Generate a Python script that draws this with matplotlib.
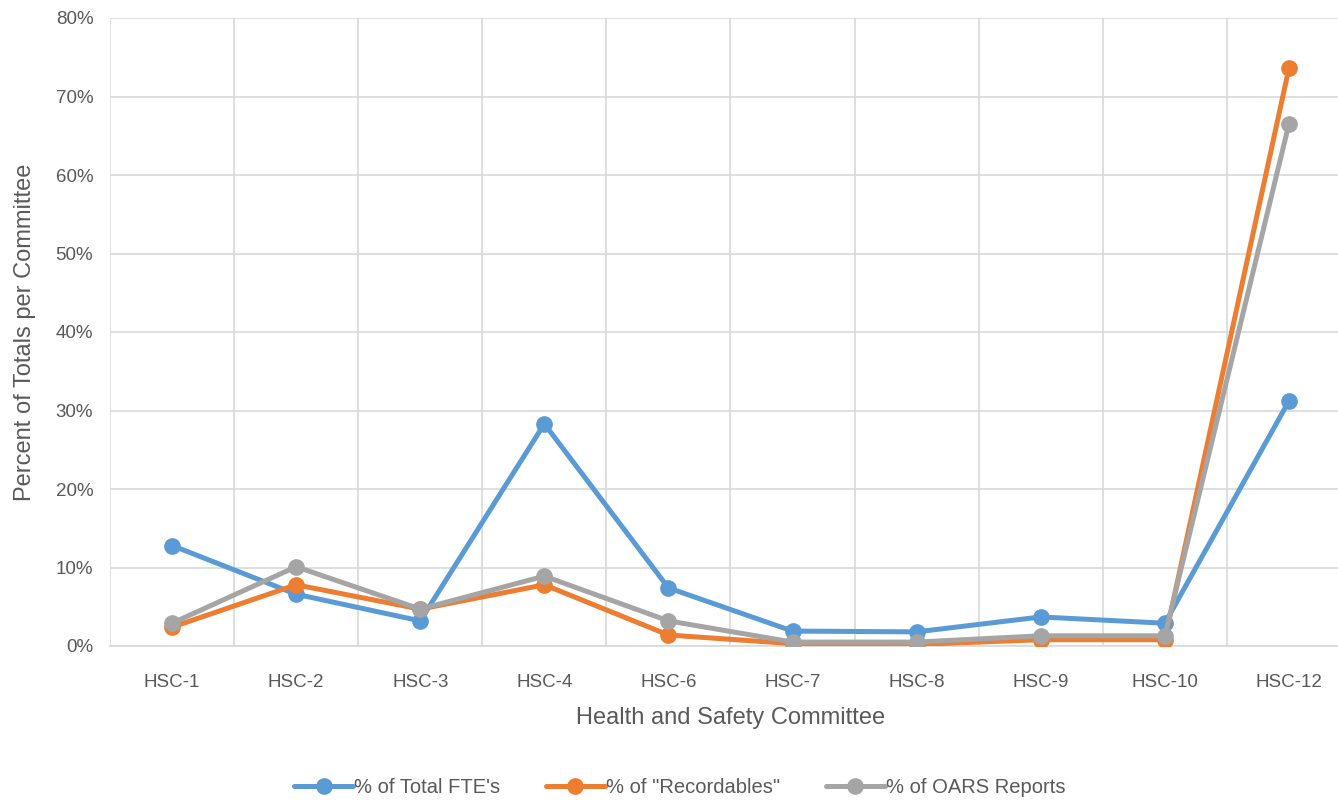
import numpy as np
import matplotlib.pyplot as plt
from matplotlib.ticker import PercentFormatter

# --- Data (percent of totals per committee) ---
committees = ["HSC-1", "HSC-2", "HSC-3", "HSC-4", "HSC-6",
              "HSC-7", "HSC-8", "HSC-9", "HSC-10", "HSC-12"]
fte_pct = [12.8, 6.6, 3.2, 28.3, 7.4, 1.9, 1.8, 3.7, 2.9, 31.2]
recordables_pct = [2.4, 7.8, 4.7, 7.8, 1.4, 0.3, 0.2, 0.8, 0.8, 73.6]
oars_pct = [2.9, 10.1, 4.7, 8.9, 3.2, 0.5, 0.5, 1.3, 1.3, 66.5]

series = [
    ("% of Total FTE's", fte_pct, "#5B9BD5"),
    ('% of "Recordables"', recordables_pct, "#ED7D31"),
    ("% of OARS Reports", oars_pct, "#A5A5A5"),
]

text_color = "#595959"
grid_color = "#D9D9D9"
plt.rcParams['font.family'] = ['Liberation Sans', 'DejaVu Sans']

fig = plt.figure(figsize=(13.38, 8), dpi=100)
ax = fig.add_axes([0.0822, 0.1925, 0.9275, 0.785])

x = np.arange(len(committees))
for label, vals, color in series:
    ax.plot(x, vals, color=color, linewidth=3.6, marker='o', markersize=11,
            label=label, solid_capstyle='round', solid_joinstyle='round',
            zorder=3)

ax.set_xlim(-0.5, len(committees) - 0.5)
ax.set_ylim(0, 80)
ax.set_yticks(np.arange(0, 81, 10))
ax.yaxis.set_major_formatter(PercentFormatter(decimals=0))
ax.set_xticks(x)
ax.set_xticklabels(committees)
ax.set_xticks(np.arange(-0.5, len(committees), 1), minor=True)

# Gridlines: horizontal at majors, vertical between categories
ax.grid(axis='y', which='major', color=grid_color, linewidth=1.2)
ax.grid(axis='x', which='minor', color=grid_color, linewidth=1.2)
ax.set_axisbelow(True)

for s in ['top', 'right', 'left']:
    ax.spines[s].set_visible(False)
ax.spines['bottom'].set_color(grid_color)
ax.spines['bottom'].set_linewidth(1.2)

ax.tick_params(axis='both', which='both', length=0, colors=text_color,
               labelsize=13.5)
ax.tick_params(axis='x', pad=20)
ax.tick_params(axis='y', pad=12)

ax.set_xlabel("Health and Safety Committee", fontsize=17, color=text_color,
              labelpad=12)
ax.set_ylabel("Percent of Totals per Committee", fontsize=17, color=text_color,
              labelpad=14)

fig.legend(loc='center', bbox_to_anchor=(0.508, 0.016), ncol=3, frameon=False,
           fontsize=14.5, labelcolor=text_color, handlelength=2.9,
           handletextpad=0.05, columnspacing=2.3)

fig.savefig("out.png", dpi=100)
